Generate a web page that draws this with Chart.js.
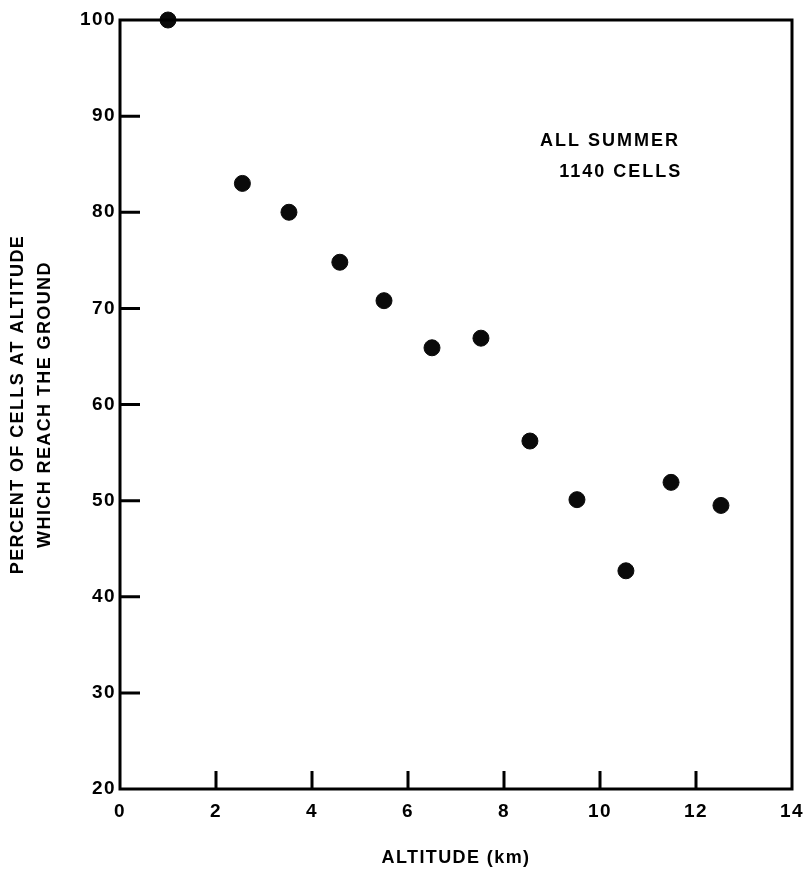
<!DOCTYPE html>
<html><head><meta charset="utf-8">
<script src="https://cdn.jsdelivr.net/npm/chart.js@4.4.1/dist/chart.umd.min.js"></script>
<style>html,body{margin:0;padding:0;background:#fff}#wrap{width:807px;height:872px}</style>
</head><body><div id="wrap"><canvas id="c" width="807" height="872"></canvas></div>
<script>
const altitudeKm = [1.0, 2.55, 3.52, 4.58, 5.5, 6.5, 7.52, 8.54, 9.52, 10.54, 11.48, 12.52];
const percentReach = [100, 83.0, 80.0, 74.8, 70.8, 65.9, 66.9, 56.2, 50.1, 42.7, 51.9, 49.5];
const xTicks = [0, 2, 4, 6, 8, 10, 12, 14];
const yTicks = [20, 30, 40, 50, 60, 70, 80, 90, 100];
const noteLines = ['ALL SUMMER', '1140 CELLS'];
const xTitle = 'ALTITUDE (km)';
const yTitle = ['PERCENT OF CELLS AT ALTITUDE', 'WHICH REACH THE GROUND'];

const FONT = '"Liberation Sans", Arial, sans-serif';

const spacingPlugin = {
  id: 'spacing',
  beforeDraw(chart) { chart.ctx.letterSpacing = '1.4px'; }
};

const framePlugin = {
  id: 'frame',
  afterDatasetsDraw(chart) {
    const {ctx, chartArea: a, scales: {x, y}} = chart;
    ctx.save();
    ctx.strokeStyle = '#000';
    ctx.lineWidth = 3;
    ctx.strokeRect(a.left, a.top, a.right - a.left, a.bottom - a.top);
    ctx.beginPath();
    xTicks.forEach(v => {
      if (v === xTicks[0] || v === xTicks[xTicks.length - 1]) return;
      const px = x.getPixelForValue(v);
      ctx.moveTo(px, a.bottom); ctx.lineTo(px, a.bottom - 18);
    });
    yTicks.forEach(v => {
      if (v === yTicks[0] || v === yTicks[yTicks.length - 1]) return;
      const py = y.getPixelForValue(v);
      ctx.moveTo(a.left, py); ctx.lineTo(a.left + 20, py);
    });
    ctx.stroke();
    ctx.fillStyle = '#000';
    ctx.letterSpacing = '2px';
    ctx.font = 'bold 18px ' + FONT;
    ctx.textAlign = 'left';
    ctx.textBaseline = 'middle';
    ctx.fillText(noteLines[0], x.getPixelForValue(8.75), y.getPixelForValue(87.4));
    ctx.fillText(noteLines[1], x.getPixelForValue(9.15), y.getPixelForValue(84.2));
    ctx.restore();
  }
};

new Chart(document.getElementById('c'), {
  type: 'scatter',
  data: {
    datasets: [{
      data: altitudeKm.map((v, i) => ({x: v, y: percentReach[i]})),
      backgroundColor: '#0a0a0a',
      borderColor: '#0a0a0a',
      pointRadius: 8,
      pointHoverRadius: 8,
      clip: false
    }]
  },
  options: {
    responsive: false,
    animation: false,
    events: [],
    layout: {padding: {left: 0, top: 20, right: 15, bottom: 0}},
    plugins: {legend: {display: false}, tooltip: {enabled: false}},
    scales: {
      x: {
        type: 'linear', min: 0, max: 14,
        afterBuildTicks: s => { s.ticks = xTicks.map(v => ({value: v})); },
        afterFit: s => { s.height = 83; s.paddingLeft = 0; s.paddingRight = 0; },
        grid: {display: false, drawTicks: false},
        border: {display: false},
        ticks: {color: '#000', padding: 11, font: {family: FONT, size: 19, weight: 'bold'}},
        title: {display: true, text: xTitle, color: '#000', padding: {top: 0, bottom: 3},
                font: {family: FONT, size: 18, weight: 'bold', lineHeight: 1.2}}
      },
      y: {
        type: 'linear', min: 20, max: 100,
        afterBuildTicks: s => { s.ticks = yTicks.map(v => ({value: v})); },
        afterFit: s => { s.width = 120; },
        grid: {display: false, drawTicks: false},
        border: {display: false},
        ticks: {color: '#000', padding: 4, font: {family: FONT, size: 19, weight: 'bold'}},
        title: {display: true, text: yTitle, color: '#000', padding: {top: 5, bottom: 0},
                font: {family: FONT, size: 18, weight: 'bold', lineHeight: 1.5}}
      }
    }
  },
  plugins: [spacingPlugin, framePlugin]
});
</script></body></html>
